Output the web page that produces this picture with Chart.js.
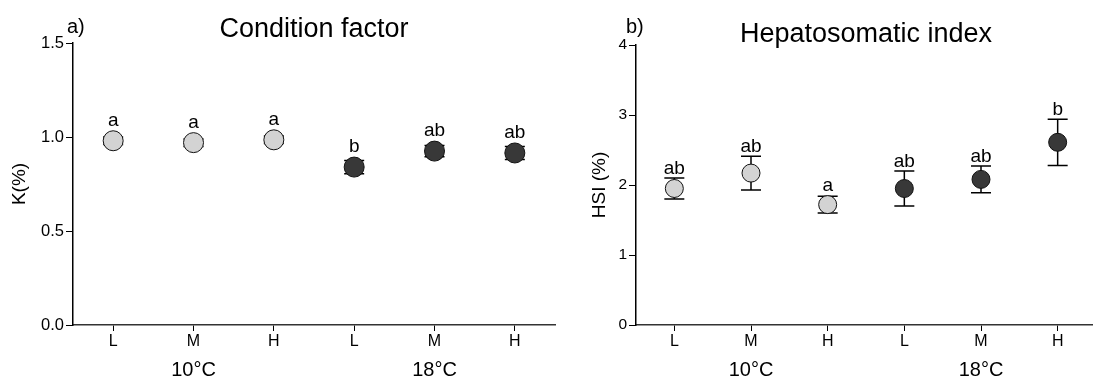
<!DOCTYPE html>
<html>
<head>
<meta charset="utf-8">
<script src="https://cdn.jsdelivr.net/npm/chart.js@4.4.1/dist/chart.umd.min.js"></script>
<style>
html, body { margin: 0; padding: 0; background: #fff; overflow: hidden; width: 1093px; height: 379px; }
#left { position: absolute; left: 0; top: 0; width: 566px; height: 379px; }
#right { position: absolute; left: 566px; top: 0; width: 540px; height: 379px; }
</style>
</head>
<body>
<div id="left"><canvas id="kChart"></canvas></div>
<div id="right"><canvas id="hsiChart"></canvas></div>
<script>
// groups: ration level within each temperature
const diets = ['L', 'M', 'H', 'L', 'M', 'H'];
const temps = ['10°C', '10°C', '10°C', '18°C', '18°C', '18°C'];
const tempGroups = ['10°C', '18°C'];

// condition factor K (%), mean ± SE
const kMean = [0.98, 0.97, 0.985, 0.84, 0.925, 0.915];
const kErr = [0.02, 0.02, 0.02, 0.035, 0.03, 0.035];
const kLetters = ['a', 'a', 'a', 'b', 'ab', 'ab'];
const kTicks = [0, 0.5, 1.0, 1.5];

// hepatosomatic index (%), mean ± SE
const hsiMean = [1.95, 2.17, 1.72, 1.95, 2.08, 2.61];
const hsiErr = [0.15, 0.24, 0.12, 0.25, 0.19, 0.33];
const hsiLetters = ['ab', 'ab', 'a', 'ab', 'ab', 'b'];
const hsiTicks = [0, 1, 2, 3, 4];

const FONT = "'Liberation Sans', Arial, Helvetica, sans-serif";
const tempFill = { '10°C': '#d3d3d3', '18°C': '#383838' };

// error bars under the points, letters / titles / temperature labels on top
const decor = {
  id: 'decor',
  beforeDatasetsDraw(chart, args, o) {
    const { ctx } = chart;
    const xs = chart.scales.x, ys = chart.scales.y;
    ctx.save();
    ctx.strokeStyle = '#000';
    ctx.lineWidth = 1.5;
    o.mean.forEach((m, i) => {
      const px = xs.getPixelForValue(i);
      const hi = ys.getPixelForValue(m + o.err[i]);
      const lo = ys.getPixelForValue(m - o.err[i]);
      ctx.beginPath();
      ctx.moveTo(px, hi); ctx.lineTo(px, lo);
      ctx.moveTo(px - o.cap, hi); ctx.lineTo(px + o.cap, hi);
      ctx.moveTo(px - o.cap, lo); ctx.lineTo(px + o.cap, lo);
      ctx.stroke();
    });
    ctx.restore();
  },
  afterDatasetsDraw(chart, args, o) {
    const { ctx, chartArea } = chart;
    const xs = chart.scales.x, ys = chart.scales.y;
    ctx.save();
    ctx.fillStyle = '#000';
    ctx.textAlign = 'center';
    ctx.textBaseline = 'alphabetic';

    // significance letters
    ctx.font = '19px ' + FONT;
    o.mean.forEach((m, i) => {
      const px = xs.getPixelForValue(i);
      const top = Math.min(ys.getPixelForValue(m + o.err[i]), ys.getPixelForValue(m) - o.radius - 1);
      ctx.fillText(o.letters[i], px, top - 4);
    });

    // panel title
    ctx.font = '27px ' + FONT;
    ctx.fillText(o.title, (chartArea.left + chartArea.right) / 2, o.titleY);

    // panel tag
    ctx.font = '20px ' + FONT;
    ctx.textAlign = 'left';
    ctx.fillText(o.tag, chartArea.left + o.tagDx, o.tagY);

    // temperature labels under the middle group of each block
    ctx.textAlign = 'center';
    ctx.font = '20px ' + FONT;
    tempGroups.forEach(g => {
      const idx = temps.map((t, i) => t === g ? i : -1).filter(i => i >= 0);
      const mid = idx[Math.floor(idx.length / 2)];
      ctx.fillText(g, xs.getPixelForValue(mid), o.groupY);
    });
    ctx.restore();
  }
};

function makeChart(id, cfg) {
  return new Chart(document.getElementById(id).getContext('2d'), {
    type: 'line',
    data: {
      labels: diets,
      datasets: [{
        data: cfg.mean,
        showLine: false,
        pointRadius: cfg.radius,
        pointHoverRadius: cfg.radius,
        pointBorderWidth: 1,
        pointBorderColor: '#111',
        pointBackgroundColor: temps.map(t => tempFill[t])
      }]
    },
    options: {
      responsive: true,
      maintainAspectRatio: false,
      animation: false,
      events: [],
      layout: { padding: { top: cfg.padTop, right: cfg.padRight, left: 0, bottom: 0 } },
      plugins: {
        legend: { display: false },
        tooltip: { enabled: false },
        decor: {
          mean: cfg.mean, err: cfg.err, letters: cfg.letters, cap: 10, radius: cfg.radius,
          title: cfg.title, titleY: cfg.titleY, tag: cfg.tag, tagDx: cfg.tagDx, tagY: cfg.tagY,
          groupY: 376
        }
      },
      scales: {
        x: {
          type: 'category',
          offset: true,
          ticks: { font: { size: 16, family: FONT }, color: '#000', padding: 1 },
          grid: { drawOnChartArea: false, tickLength: 6, color: '#000', lineWidth: 1 },
          border: { color: '#333', width: 1.5 },
          afterFit(scale) { scale.height = 54; }
        },
        y: {
          min: cfg.ticks[0],
          max: cfg.ticks[cfg.ticks.length - 1],
          afterBuildTicks(scale) { scale.ticks = cfg.ticks.map(v => ({ value: v })); },
          ticks: { font: { size: cfg.yFont, family: FONT }, color: '#000', padding: 2, callback: cfg.fmt },
          grid: { drawOnChartArea: false, tickLength: 7, color: '#000', lineWidth: 1 },
          border: { color: '#000', width: 1.5 },
          title: { display: true, text: cfg.yTitle, color: '#000', font: { size: 19, family: FONT }, padding: { top: cfg.yTitlePad, bottom: 0 } },
          afterFit(scale) { scale.width = cfg.yWidth; }
        }
      }
    },
    plugins: [decor]
  });
}

makeChart('kChart', {
  mean: kMean, err: kErr, letters: kLetters, ticks: kTicks, radius: 10,
  fmt: v => Number(v).toFixed(1), yFont: 16.5, yTitle: 'K(%)', yTitlePad: 8.5, yWidth: 73,
  padTop: 43, padRight: 6,
  title: 'Condition factor', titleY: 37, tag: 'a)', tagDx: -6, tagY: 33
});

makeChart('hsiChart', {
  mean: hsiMean, err: hsiErr, letters: hsiLetters, ticks: hsiTicks, radius: 9,
  fmt: v => String(v), yFont: 15.5, yTitle: 'HSI (%)', yTitlePad: 22.5, yWidth: 70,
  padTop: 45, padRight: 3,
  title: 'Hepatosomatic index', titleY: 42, tag: 'b)', tagDx: -10, tagY: 33
});
</script>
</body>
</html>
